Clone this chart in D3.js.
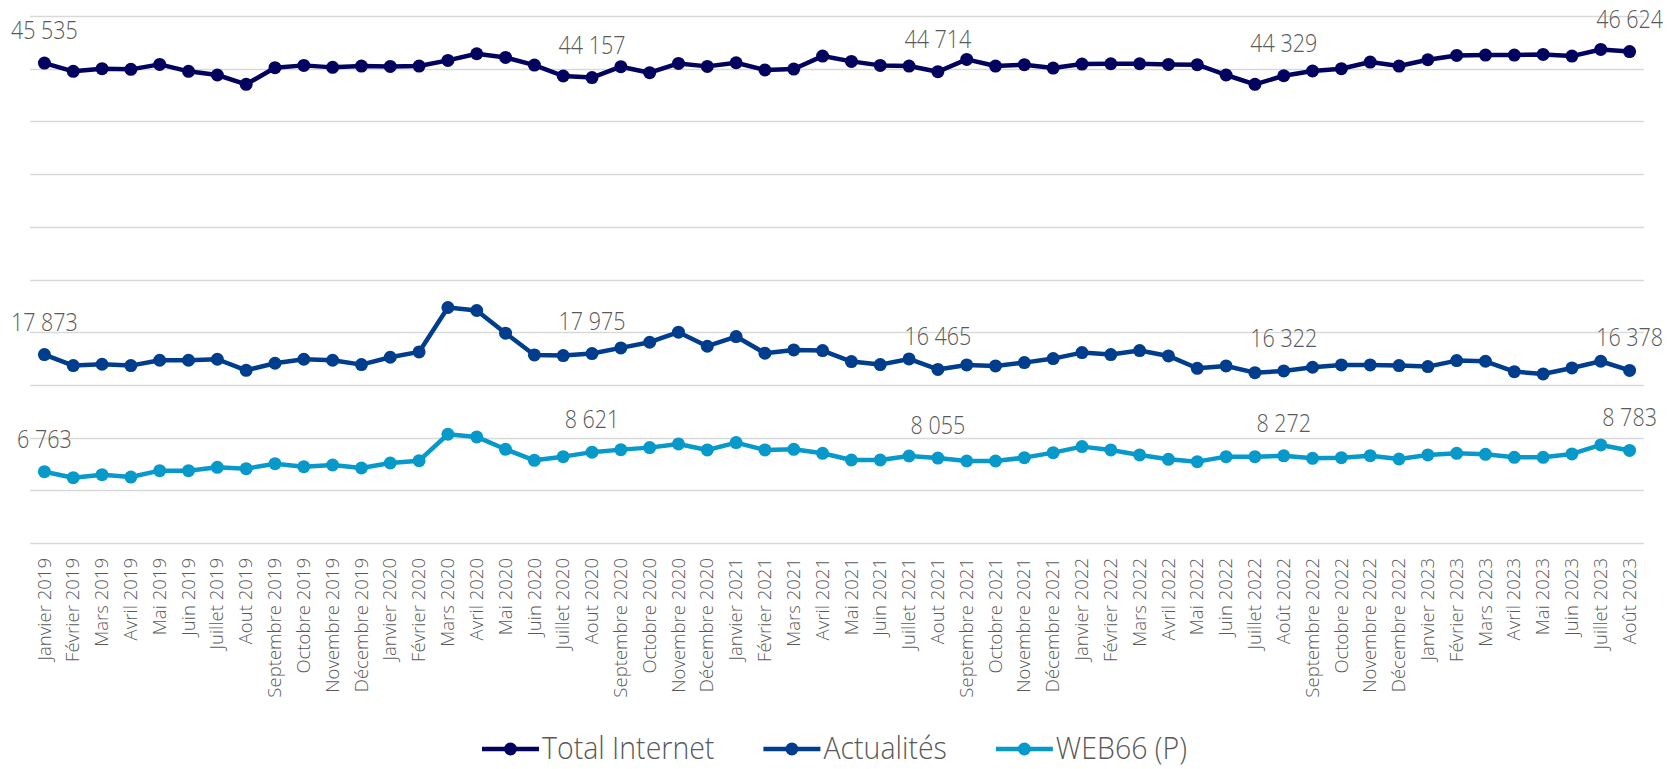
<html>

<head>
    <meta charset="utf-8" />
    <script src="https://cdn.jsdelivr.net/npm/d3@7"></script>
    <style>
        body { margin: 0; background: #fff; }
        text { font-family: 'Segoe UI Light', 'Open Sans', sans-serif; font-weight: 300; }
    </style>
</head>

<body>
    <script>
        var width = 1669;
        var height = 769;

        var categories = [
            'Janvier 2019', 'Février 2019', 'Mars 2019', 'Avril 2019', 'Mai 2019', 'Juin 2019', 'Juillet 2019', 'Aout 2019',
            'Septembre 2019', 'Octobre 2019', 'Novembre 2019', 'Décembre 2019',
            'Janvier 2020', 'Février 2020', 'Mars 2020', 'Avril 2020', 'Mai 2020', 'Juin 2020', 'Juillet 2020', 'Aout 2020',
            'Septembre 2020', 'Octobre 2020', 'Novembre 2020', 'Décembre 2020',
            'Janvier 2021', 'Février 2021', 'Mars 2021', 'Avril 2021', 'Mai 2021', 'Juin 2021', 'Juillet 2021', 'Aout 2021',
            'Septembre 2021', 'Octobre 2021', 'Novembre 2021', 'Décembre 2021',
            'Janvier 2022', 'Février 2022', 'Mars 2022', 'Avril 2022', 'Mai 2022', 'Juin 2022', 'Juillet 2022', 'Août 2022',
            'Septembre 2022', 'Octobre 2022', 'Novembre 2022', 'Décembre 2022',
            'Janvier 2023', 'Février 2023', 'Mars 2023', 'Avril 2023', 'Mai 2023', 'Juin 2023', 'Juillet 2023', 'Août 2023'
        ];

        var totalInternet = [45535, 44748, 45000, 44937, 45410, 44748, 44402, 43520, 45095, 45315, 45126, 45252,
            45220, 45252, 45787, 46417, 46071, 45346, 44307, 44157, 45189, 44622, 45504, 45220,
            45567, 44874, 44968, 46197, 45693, 45315, 45252, 44714, 45882, 45252, 45378, 45063,
            45441, 45472, 45472, 45410, 45378, 44402, 43520, 44329, 44780, 45000, 45630, 45252,
            45850, 46260, 46290, 46290, 46355, 46197, 46827, 46624];

        var actualites = [17873, 16830, 16957, 16830, 17337, 17337, 17432, 16386, 17052, 17432, 17337, 16925,
            17622, 18130, 22346, 22060, 19905, 17844, 17781, 17975, 18510, 19049, 20000, 18669,
            19588, 18003, 18320, 18257, 17210, 16925, 17464, 16465, 16893, 16798, 17115, 17496,
            18066, 17876, 18257, 17749, 16576, 16798, 16164, 16322, 16672, 16893, 16893, 16830,
            16735, 17305, 17242, 16259, 16037, 16608, 17242, 16378];

        var web66 = [6763, 6196, 6481, 6259, 6862, 6862, 7179, 7052, 7527, 7242, 7401, 7115,
            7591, 7813, 10317, 10063, 8890, 7844, 8193, 8621, 8859, 9049, 9398, 8827,
            9524, 8827, 8890, 8510, 7876, 7876, 8257, 8055, 7781, 7781, 8098, 8574,
            9144, 8827, 8352, 7940, 7718, 8193, 8193, 8272, 8035, 8098, 8288, 7971,
            8352, 8510, 8415, 8130, 8130, 8447, 9303, 8783];

        var seriesNames = ['Total Internet', 'Actualités', 'WEB66 (P)'];
        var seriesColors = ['#03035f', '#003d8c', '#0899cb'];
        var labelIndexes = [0, 19, 31, 43, 55];

        var series = [totalInternet, actualites, web66];

        var fr = d3.formatLocale({ decimal: ',', thousands: '\u00a0', grouping: [3], currency: ['', ' €'] });
        var fmt = fr.format(',d');

        var svg = d3.select('body')
            .append('svg')
            .attr('width', width)
            .attr('height', height)
            .style('background', '#fff');

        var x = d3.scaleBand().domain(categories).range([30, 1644]);
        var y = d3.scaleLinear().domain([0, 50000]).range([543, 16]);
        var cx = function (i) { return x(categories[i]) + x.bandwidth() / 2; };

        // gridlines
        svg.append('g')
            .selectAll('line')
            .data(y.ticks(10))
            .enter()
            .append('line')
            .attr('x1', 30)
            .attr('x2', 1644)
            .attr('y1', function (d) { return Math.round(y(d)) + 0.5; })
            .attr('y2', function (d) { return Math.round(y(d)) + 0.5; })
            .attr('stroke', '#d9d9d9')
            .attr('stroke-width', 1.5);

        // x axis
        var xAxis = svg.append('g')
            .attr('transform', 'translate(0,543)')
            .call(d3.axisBottom(x).tickSize(0));
        xAxis.select('.domain').remove();
        xAxis.selectAll('text')
            .attr('transform', 'translate(0,15) rotate(-90) scale(1.06,1)')
            .attr('x', 0)
            .attr('y', 0)
            .attr('dy', '0.35em')
            .style('text-anchor', 'end')
            .style('font-size', '17.5px')
            .style('font-family', "'Segoe UI Light', 'Open Sans', sans-serif")
            .attr('fill', '#595959');

        var line = d3.line()
            .x(function (d, i) { return cx(i); })
            .y(function (d) { return y(d); });

        series.forEach(function (values, s) {
            var g = svg.append('g');
            g.append('path')
                .datum(values)
                .attr('d', line)
                .attr('fill', 'none')
                .attr('stroke', seriesColors[s])
                .attr('stroke-width', 4.5)
                .attr('stroke-linejoin', 'round');
            g.selectAll('circle')
                .data(values)
                .enter()
                .append('circle')
                .attr('cx', function (d, i) { return cx(i); })
                .attr('cy', function (d) { return y(d); })
                .attr('r', 6.5)
                .attr('fill', seriesColors[s]);
            g.selectAll('text')
                .data(labelIndexes)
                .enter()
                .append('text')
                .attr('transform', function (i) {
                    return 'translate(' + cx(i) + ',' + (y(values[i]) - 24) + ') scale(1,1.15)';
                })
                .attr('text-anchor', 'middle')
                .attr('font-size', 21.5)
                .attr('fill', '#595959')
                .text(function (i) { return fmt(values[i]); });
        });

        // legend
        var legend = svg.append('g').attr('transform', 'translate(482,749)');
        var lx = 0;
        seriesNames.forEach(function (name, s) {
            var item = legend.append('g').attr('transform', 'translate(' + lx + ',0)');
            item.append('line')
                .attr('x1', 0).attr('x2', 57)
                .attr('stroke', seriesColors[s])
                .attr('stroke-width', 4.5);
            item.append('circle')
                .attr('cx', 28.5).attr('r', 6.5)
                .attr('fill', seriesColors[s]);
            var t = item.append('text')
                .attr('transform', 'translate(60,0) scale(1,1.08)')
                .attr('dy', '0.33em')
                .attr('font-size', 28.5)
                .attr('fill', '#595959')
                .text(name);
            lx += 60 + t.node().getComputedTextLength() + 49;
        });
    </script>
</body>

</html>
